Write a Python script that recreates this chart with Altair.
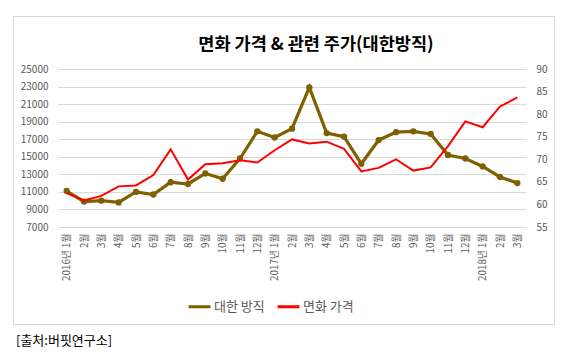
import altair as alt
import pandas as pd

months = ["2016년 1월", "2월", "3월", "4월", "5월", "6월", "7월", "8월", "9월", "10월", "11월", "12월",
          "2017년 1월", "2월", "3월", "4월", "5월", "6월", "7월", "8월", "9월", "10월", "11월", "12월",
          "2018년 1월", "2월", "3월"]
daehan = [11100, 9900, 10000, 9800, 11000, 10700, 12100, 11900, 13100, 12500, 14800, 17900,
          17200, 18200, 22900, 17700, 17300, 14200, 16900, 17800, 17900, 17600, 15200, 14800,
          13900, 12700, 12000]
cotton = [62.5, 60.9, 61.9, 64.0, 64.2, 66.5, 72.2, 65.5, 68.9, 69.1, 69.8, 69.3,
          72.0, 74.4, 73.5, 73.9, 72.3, 67.3, 68.1, 70.0, 67.5, 68.2, 72.9, 78.4,
          77.1, 81.7, 83.7]
series_names = ["대한 방직", "면화 가격"]
series_colors = ["#7f6000", "#ff0000"]
title_text = "면화 가격 & 관련 주가(대한방직)"
source_text = "[출처:버핏연구소]"

FONT = "Noto Sans CJK KR"
idx = list(range(len(months)))
df = pd.DataFrame({"i": idx, "daehan": daehan, "cotton": cotton})
df["s1"] = series_names[0]
df["s2"] = series_names[1]
one = pd.DataFrame({"k": [0]})

label_arr = "[" + ",".join("'" + m + "'" for m in months) + "]"

color_scale = alt.Scale(domain=series_names, range=series_colors)
xenc = alt.X("i:O", scale=alt.Scale(type="point", padding=0.5),
             axis=alt.Axis(title=None, labelExpr=label_arr + "[datum.value]", labelAngle=-90,
                           labelFontSize=9.8, labelColor="#595959", labelFont=FONT,
                           domain=False, ticks=False, labelPadding=6, grid=False))

legend = alt.Legend(title=None, orient="none", legendX=129, legendY=225, direction="horizontal",
                    symbolType="stroke", symbolSize=480, symbolStrokeWidth=3,
                    labelFont=FONT, labelFontSize=13, labelColor="#595959", columnPadding=6,
                    symbolOffset=0, labelOffset=2)

left = alt.Chart(df).mark_line(strokeWidth=3.2, point=alt.OverlayMarkDef(size=40, filled=True, color="#7f6000")).encode(
    x=xenc,
    y=alt.Y("daehan:Q", scale=alt.Scale(domain=[7000, 25000], nice=False, zero=False),
            axis=alt.Axis(title=None, values=list(range(7000, 25001, 2000)), labelFontSize=10,
                          labelColor="#595959", labelFont=FONT, domain=False, ticks=False,
                          labelPadding=10, gridColor="#d9d9d9", format="d")),
    color=alt.Color("s1:N", scale=color_scale, legend=legend),
)

right = alt.Chart(df).mark_line(strokeWidth=2).encode(
    x=xenc,
    y=alt.Y("cotton:Q", scale=alt.Scale(domain=[55, 90], nice=False, zero=False),
            axis=alt.Axis(title=None, orient="right", values=list(range(55, 91, 5)), labelFontSize=10,
                          labelColor="#595959", labelFont=FONT, domain=False, ticks=False,
                          labelPadding=10, grid=False)),
    color=alt.Color("s2:N", scale=color_scale, legend=legend),
)

border = alt.Chart(one).mark_rect(fill=None, stroke="#d9d9d9", strokeWidth=1).encode(
    x=alt.value(-44.5), x2=alt.value(496.5), y=alt.value(-52.5), y2=alt.value(255.5)
)

source = alt.Chart(one).mark_text(text=source_text, font=FONT, fontSize=13, align="left",
                                  baseline="middle", color="#000000").encode(
    x=alt.value(-42), y=alt.value(272)
)

title_txt = alt.Chart(one).mark_text(text=title_text, font=FONT, fontSize=17.5,
                                     fontWeight="bold", align="center", baseline="middle",
                                     color="#000000").encode(
    x=alt.value(258), y=alt.value(-24)
)

chart = alt.layer(border, left, right, title_txt, source).resolve_scale(y="independent").properties(
    width=468, height=158,
    autosize=alt.AutoSizeParams(type="none"),
    padding={"left": 58, "top": 69, "right": 38, "bottom": 128},
    background="white",
).configure_view(stroke=None)

chart.save("out.html", embed_options={"renderer": "svg", "actions": False})
